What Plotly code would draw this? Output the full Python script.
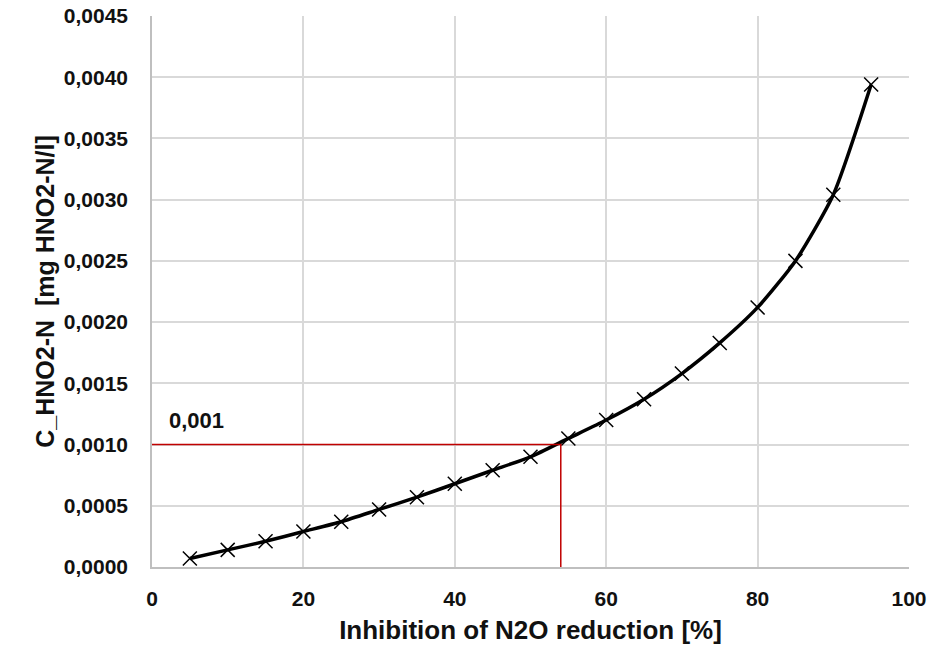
import plotly.graph_objects as go

inhibition = [5, 10, 15, 20, 25, 30, 35, 40, 45, 50, 55, 60, 65, 70, 75, 80, 85, 90, 95]
c_hno2 = [0.00007, 0.00014, 0.00021, 0.00029, 0.00037, 0.00047, 0.00057, 0.00068, 0.00079,
          0.00090, 0.00105, 0.00120, 0.00137, 0.00158, 0.00183, 0.00212, 0.00250, 0.00304, 0.00394]

ref_x = 54
ref_y = 0.001
ref_label = "0,001"

font = "Liberation Sans, Arial, sans-serif"

fig = go.Figure()
fig.add_trace(go.Scatter(
    x=inhibition, y=c_hno2, mode="lines+markers",
    line=dict(color="black", width=3.5, shape="spline", smoothing=0.6),
    marker=dict(symbol="x-thin", size=14, line=dict(color="black", width=1.5), color="black"),
    showlegend=False, hoverinfo="skip",
))
fig.add_trace(go.Scatter(
    x=[0, ref_x, ref_x], y=[ref_y, ref_y, 0], mode="lines",
    line=dict(color="#c00000", width=1.5), showlegend=False, hoverinfo="skip",
))
fig.add_annotation(x=2.0, y=ref_y, text="<b>" + ref_label + "</b>", showarrow=False,
                   xanchor="left", yanchor="bottom", yshift=10,
                   font=dict(family=font, size=22, color="#111111"))

fig.update_layout(
    width=949, height=649,
    margin=dict(l=152, r=40, t=16, b=82),
    paper_bgcolor="white", plot_bgcolor="white",
    separators=",.",
    font=dict(family=font, size=21, color="#111111"),
    xaxis=dict(range=[0, 100], dtick=20, tick0=0, showgrid=True, gridcolor="#d9d9d9", gridwidth=1.5,
               showline=True, linecolor="#bfbfbf", linewidth=1.5, zeroline=False, automargin=False,
               tickfont=dict(family=font, size=21, weight="bold"), ticks="", ticklabelstandoff=12,
               title=dict(text="<b>Inhibition of N2O reduction [%]</b>", font=dict(size=26), standoff=12)),
    yaxis=dict(range=[0, 0.0045], dtick=0.0005, tick0=0, tickformat=".4f", showgrid=True,
               gridcolor="#d9d9d9", gridwidth=1.5, automargin=False,
               showline=True, linecolor="#bfbfbf", linewidth=1.5, zeroline=False,
               tickfont=dict(family=font, size=21, weight="bold"), ticks="", ticklabelstandoff=18,
               title=dict(text="<b>C_HNO2-N  [mg HNO2-N/l]</b>", font=dict(size=25), standoff=2)),
)
fig.write_html("out.html")
